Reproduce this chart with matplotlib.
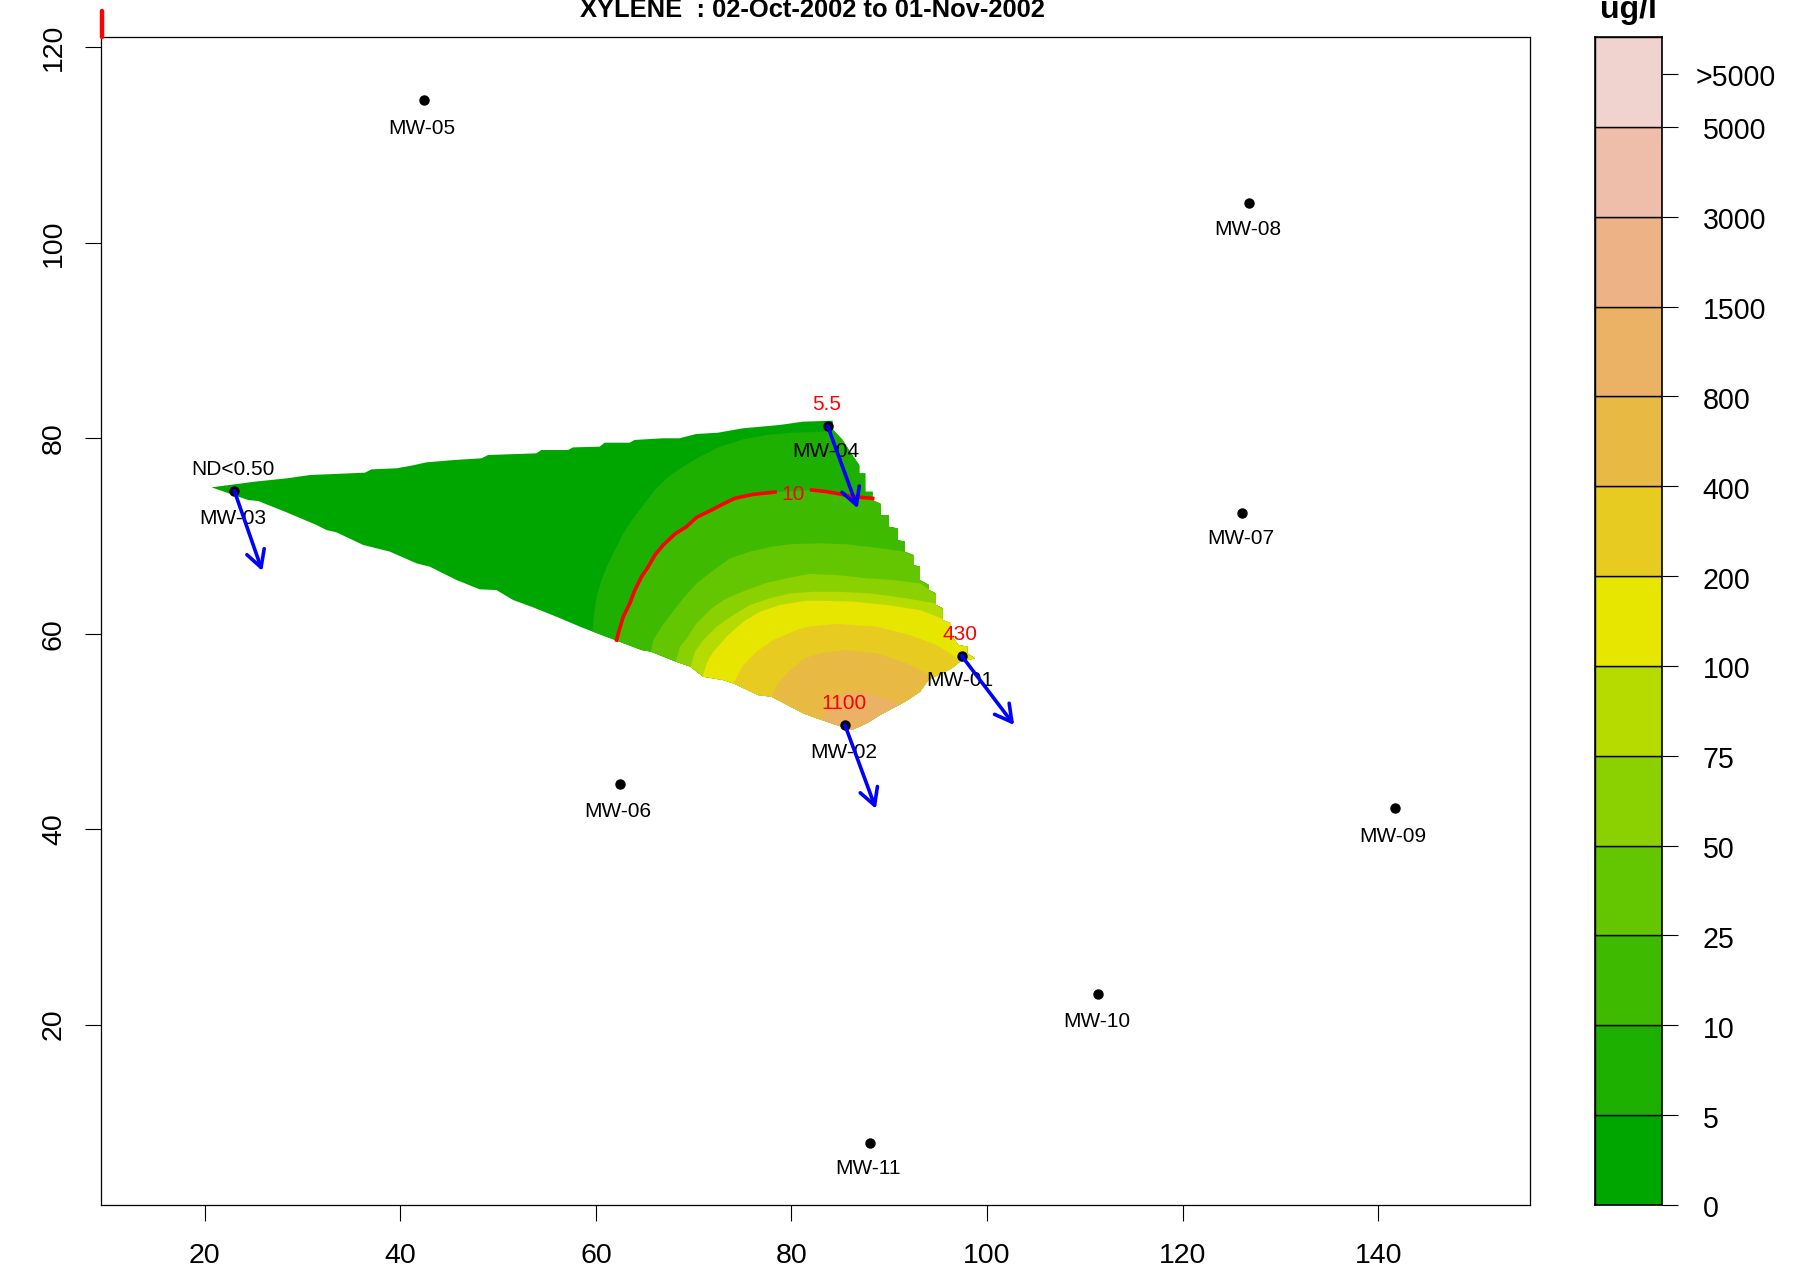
import matplotlib
matplotlib.use('Agg')
import matplotlib.pyplot as plt
from matplotlib.patches import Polygon

plt.rcParams['font.family'] = ['Liberation Sans', 'DejaVu Sans']

# wells
well_names = ['MW-01', 'MW-02', 'MW-03', 'MW-04', 'MW-05', 'MW-06', 'MW-07', 'MW-08', 'MW-09', 'MW-10', 'MW-11']
well_x = [97.39, 85.47, 23.03, 83.70, 42.40, 62.44, 126.07, 126.77, 141.66, 111.36, 87.98]
well_y = [57.75, 50.65, 74.64, 81.25, 114.59, 44.60, 72.31, 104.08, 42.13, 23.11, 7.85]
name_y = [55.23, 47.83, 71.77, 78.60, 111.71, 41.84, 69.78, 101.38, 39.26, 20.35, 5.31]

# concentrations, only the four sampled wells
sample_wells = [0, 1, 2, 3]
sample_text = ['430', '1100', 'ND<0.50', '5.5']
sample_color = ['red', 'red', 'black', 'red']

# flow arrows tips
arrow_x = [102.77, 88.63, 25.89, 86.77]
arrow_y = [50.65, 42.08, 66.42, 72.83]

# outline of the plume
hull_x = [20.71, 25.14, 28.38, 30.76, 36.38, 37.06, 39.61, 41.14, 42.68, 45.57, 48.30, 48.98, 53.91, 54.42,
          57.15, 57.66, 60.38, 60.89, 63.45, 63.96, 66.85, 68.55, 70.25, 72.47, 75.02, 78.77, 81.15, 84.21,
          84.28, 85.24, 86.09, 86.94, 86.94, 87.55, 87.55, 88.30, 88.30, 89.15, 89.15, 89.97, 89.97, 90.85,
          90.85, 91.60, 91.60, 92.46, 92.46, 93.14, 93.14, 94.06, 94.06, 94.77, 94.77, 95.46, 95.46, 96.31,
          96.31, 97.06, 97.98, 97.98, 98.76, 97.23, 96.38, 93.99, 93.14, 91.60, 89.05, 87.69, 86.15, 82.91,
          81.21, 77.97, 76.61, 74.05, 73.02, 70.98, 70.30, 69.68, 68.18, 65.63, 64.67, 62.12, 59.67, 58.37,
          55.96, 53.57, 51.53, 49.83, 48.12, 45.74, 43.02, 41.66, 38.93, 36.21, 33.48, 32.46, 31.44,
          28.38, 25.48, 24.46, 22.93]
hull_y = [74.98, 75.56, 75.90, 76.24, 76.48, 76.82, 76.93, 77.20, 77.54, 77.78, 77.95, 78.29, 78.46, 78.80,
          78.80, 79.07, 79.14, 79.55, 79.55, 79.83, 80.00, 80.00, 80.44, 80.57, 81.02, 81.36, 81.70, 81.80,
          80.85, 79.82, 78.46, 77.26, 76.41, 76.41, 74.53, 74.53, 73.68, 73.27, 72.15, 72.15, 70.95, 70.78,
          69.59, 69.42, 68.39, 68.05, 67.03, 66.86, 65.49, 64.98, 64.47, 64.13, 62.94, 62.59, 61.40, 61.06,
          59.87, 58.84, 58.67, 57.99, 57.48, 57.14, 56.45, 55.26, 54.06, 53.04, 51.68, 50.82, 50.14, 51.23,
          51.85, 53.55, 53.72, 54.92, 55.26, 55.60, 56.11, 56.62, 57.14, 58.16, 58.33, 59.29, 60.21, 60.72,
          61.74, 62.70, 63.45, 64.47, 64.54, 65.50, 66.86, 67.20, 68.40, 69.08, 70.37, 70.61, 71.12,
          72.42, 73.58, 73.68, 74.20]

# contour lines
c5_x = [59.60, 59.67, 59.80, 60.07, 60.59, 61.27, 61.95, 62.80, 63.82, 64.84, 66.04, 67.40, 68.93, 70.64, 72.68,
        75.07, 77.45, 80.18, 82.91, 84.21, 85.24]
c5_y = [60.00, 60.38, 61.91, 63.79, 65.50, 67.20, 68.57, 70.27, 71.81, 73.17, 74.71, 76.07, 77.10, 78.12, 79.14,
        79.89, 80.34, 80.58, 80.65, 80.78, 80.67]
c10_left_x = [62.12, 62.39, 62.80, 63.48, 63.99, 64.67, 65.36, 66.04, 66.89, 68.08, 69.28, 70.30, 71.83, 73.02,
              74.22, 76.09, 78.31]
c10_left_y = [59.35, 60.38, 61.74, 63.11, 64.47, 65.84, 66.86, 68.06, 69.08, 70.20, 70.96, 71.91, 72.66, 73.28,
              73.86, 74.26, 74.50]
c10_right_x = [82.06, 83.59, 84.95, 86.26, 88.30]
c10_right_y = [74.71, 74.54, 74.30, 74.02, 73.85]
c25_x = [65.63, 65.87, 66.72, 67.74, 68.93, 70.30, 71.83, 73.71, 75.75, 77.97, 80.18, 82.91, 85.64, 88.71, 91.60]
c25_y = [58.16, 59.35, 60.72, 62.08, 63.62, 65.15, 66.35, 67.71, 68.40, 68.91, 69.18, 69.25, 69.15, 68.80, 68.39]
c50_x = [68.18, 68.59, 69.28, 70.30, 71.83, 73.37, 75.41, 77.28, 79.50, 81.72, 84.62, 87.69, 90.41, 93.14, 94.06]
c50_y = [57.14, 58.67, 59.52, 61.06, 62.60, 63.62, 64.47, 65.15, 65.67, 66.11, 66.01, 65.67, 65.49, 65.15, 64.54]
c75_x = [69.68, 70.13, 70.98, 72.34, 74.05, 75.75, 77.80, 79.84, 82.23, 84.62, 88.03, 91.77, 94.67, 95.52]
c75_y = [56.62, 58.16, 59.35, 60.72, 61.91, 62.94, 63.62, 64.13, 64.30, 64.30, 64.13, 63.62, 63.11, 62.42]
c100_x = [70.98, 71.32, 72.00, 73.37, 75.07, 76.77, 78.82, 81.54, 82.91, 86.32, 89.73, 93.14, 96.21]
c100_y = [55.77, 56.97, 58.16, 59.70, 61.23, 62.25, 62.94, 63.38, 63.38, 63.28, 62.94, 62.42, 61.23]
c200_x = [74.05, 75.08, 76.43, 78.14, 80.52, 81.72, 84.62, 88.71, 92.12, 94.84, 97.23]
c200_y = [54.92, 56.79, 58.16, 59.35, 60.38, 60.72, 61.00, 60.72, 59.86, 58.84, 57.31]
c400_x = [77.97, 78.65, 79.85, 81.38, 82.91, 85.64, 88.71, 91.77, 93.82, 94.84]
c400_y = [53.55, 54.92, 56.28, 57.48, 57.99, 58.33, 57.99, 56.96, 55.94, 55.09]
c800_x = [83.25, 84.28, 85.47, 87.00, 89.05, 90.58, 91.60]
c800_y = [51.23, 53.04, 53.96, 54.07, 53.55, 52.94, 52.70]

# colour key
key_labels = ['0', '5', '10', '25', '50', '75', '100', '200', '400', '800', '1500', '3000', '5000']
key_colors = ['#00A600', '#1DB000', '#3EBB00', '#63C600', '#8BD000', '#B6DB00', '#E6E600',
              '#E7CB21', '#E9BA43', '#EBB165', '#EDB387', '#EFBEAA', '#F0D3CE']

W, H = 1799, 1275
fig = plt.figure(figsize=(W / 100, H / 100), dpi=100)
ax = fig.add_axes([101 / W, 70 / H, 1428.7 / W, 1168 / H])
ax.set_xlim(9.40, 155.48)
ax.set_ylim(1.53, 121.07)

# plume: paint each level on top of the lower one, all clipped to the outline
hull = Polygon(list(zip(hull_x, hull_y)), closed=True, fc=key_colors[0], ec='none', zorder=1)
ax.add_patch(hull)

c10_x = c10_left_x + c10_right_x
c10_y = c10_left_y + c10_right_y
levels = [(c5_x, c5_y), (c10_x, c10_y), (c25_x, c25_y), (c50_x, c50_y), (c75_x, c75_y),
          (c100_x, c100_y), (c200_x, c200_y), (c400_x, c400_y), (c800_x, c800_y)]
for i, (lx, ly) in enumerate(levels):
    pts = list(zip(lx, ly)) + [(125, ly[-1]), (125, 30), (40, 30)]
    p = Polygon(pts, closed=True, fc=key_colors[i + 1], ec='none', zorder=1 + i * 0.01)
    ax.add_patch(p)
    p.set_clip_path(hull)

# level 10 line
ax.plot(c10_left_x, c10_left_y, color='red', lw=2.6, zorder=3)
ax.plot(c10_right_x, c10_right_y, color='red', lw=2.6, zorder=3)
ax.text(80.19, 74.25, '10', color='red', fontsize=15, ha='center', va='center', zorder=3)

# stray red mark above the frame
ax.plot([9.55, 9.55], [121.07, 123.7], color='red', lw=3.2, clip_on=False, solid_capstyle='round', zorder=5)

# wells
for name, x, y in zip(well_names, well_x, name_y):
    ax.text(x - 0.15, y, name, fontsize=15, ha='center', va='center', zorder=4)
ax.plot(well_x, well_y, 'o', color='black', ms=6.5, zorder=5)
for i, t, c in zip(sample_wells, sample_text, sample_color):
    ax.text(well_x[i] - 0.15, well_y[i] + 2.2, t, color=c, fontsize=15, ha='center', va='center', zorder=4)

for i, ex, ey in zip(sample_wells, arrow_x, arrow_y):
    ax.annotate('', xy=(ex, ey), xytext=(well_x[i], well_y[i]), zorder=6,
                arrowprops=dict(arrowstyle='->,head_length=0.6,head_width=0.33', color='#0000FF', lw=2.6,
                                shrinkA=0, shrinkB=0, mutation_scale=20))

ax.set_xticks([20, 40, 60, 80, 100, 120, 140])
ax.set_yticks([20, 40, 60, 80, 100, 120])
ax.tick_params(axis='x', length=11.5, width=0.8, labelsize=20.5, pad=16)
ax.tick_params(axis='y', length=11.5, width=0.8, labelsize=20.5, pad=13)
for lab in ax.get_yticklabels():
    lab.set_rotation(90)
    lab.set_va('center')
for s in ax.spines.values():
    s.set_linewidth(0.9)
fig.text(812.5 / W, 1 - 17 / H, 'XYLENE  : 02-Oct-2002 to 01-Nov-2002', fontsize=18.4, fontweight='bold',
         ha='center', va='baseline')

# key on the right
cax = fig.add_axes([1595 / W, 70 / H, 67.5 / W, 1168 / H])
cax.barh(range(len(key_colors)), [1] * len(key_colors), height=1, left=0, align='edge',
         color=key_colors, edgecolor='black', linewidth=1)
cax.set_xlim(0, 1)
cax.set_ylim(0, len(key_colors))
cax.set_xticks([])
ticks = list(range(len(key_labels))) + [len(key_colors) - 0.41]
cax.yaxis.tick_right()
cax.set_yticks(ticks)
cax.set_yticklabels([])
cax.tick_params(axis='y', length=11.5, width=0.8)
for i, t in enumerate(key_labels):
    cax.text(1.594, i - 0.05, t, fontsize=20.6, ha='left', va='center', transform=cax.get_yaxis_transform())
cax.text(1.492, ticks[-1] - 0.05, '>5000', fontsize=20.6, ha='left', va='center', transform=cax.get_yaxis_transform())
for s in cax.spines.values():
    s.set_linewidth(1.2)
cax.text(0.5, 1.0163, 'ug/l', fontsize=23, fontweight='bold', ha='center', va='baseline',
         transform=cax.transAxes)

fig.savefig('out.png', dpi=100)
